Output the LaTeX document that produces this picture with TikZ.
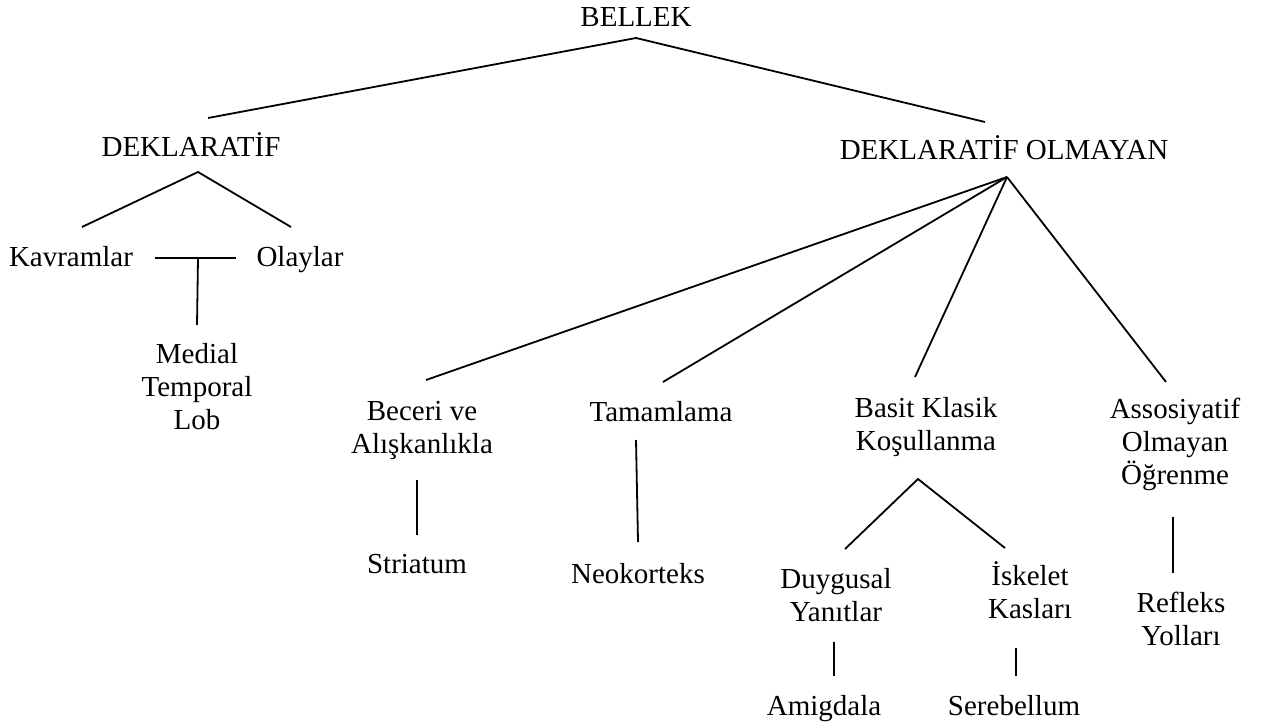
\documentclass[tikz,border=0pt]{standalone}
\usepackage{fontspec}
\setmainfont{Liberation Serif}
\usepackage{tikz}

\begin{document}
\begin{tikzpicture}[x=0.5pt, y=-0.5pt]
    \tikzstyle{term} = [inner sep=0pt, anchor=base, align=center, font=\fontsize{14.5}{16.5}\selectfont]
    \tikzstyle{link} = [line width=0.9pt, black]

    \useasboundingbox (0,0) rectangle (1261,727);

    % nodes (multi-line ones sit on their last baseline)
    \node (bellek) [term] at (636,27) {BELLEK};
    \node (dek) [term] at (191,157) {DEKLARAT\.IF};
    \node (dekol) [term] at (1004,160) {DEKLARAT\.IF OLMAYAN};
    \node (kavram) [term] at (71,266) {Kavramlar};
    \node (olay) [term] at (300,266) {Olaylar};
    \node (mtl) [term] at (197,429) {Medial\\Temporal\\Lob};
    \node (beceri) [term] at (422,453) {Beceri ve\\Alışkanlıkla};
    \node (tamam) [term] at (661,421) {Tamamlama};
    \node (basit) [term] at (926,450) {Basit Klasik\\Koşullanma};
    \node (assos) [term] at (1175,484) {Assosiyatif\\Olmayan\\Öğrenme};
    \node (striatum) [term] at (417,573) {Striatum};
    \node (neo) [term] at (638,583) {Neokorteks};
    \node (duygu) [term] at (836,621) {Duygusal\\Yanıtlar};
    \node (iskelet) [term] at (1030,618) {\.Iskelet\\Kasları};
    \node (refleks) [term] at (1181,645) {Refleks\\Yolları};
    \node (amig) [term] at (824,715) {Amigdala};
    \node (sereb) [term] at (1014,715) {Serebellum};

    % line ends
    \coordinate (bellekTop) at (636,38);
    \coordinate (dekIn) at (208,118);
    \coordinate (dekolIn) at (985,122);
    \coordinate (dekOut) at (198,172);
    \coordinate (kavramIn) at (82,227);
    \coordinate (olayIn) at (291,227);
    \coordinate (barL) at (155,258);
    \coordinate (barM) at (198,258);
    \coordinate (barR) at (236,258);
    \coordinate (mtlIn) at (197,325);
    \coordinate (dekolOut) at (1007,177);
    \coordinate (beceriIn) at (426,380);
    \coordinate (tamamIn) at (663,382);
    \coordinate (basitIn) at (915,377);
    \coordinate (assosIn) at (1166,382);
    \coordinate (beceriOut) at (417,480);
    \coordinate (striatumIn) at (417,535);
    \coordinate (tamamOut) at (636,440);
    \coordinate (neoIn) at (638,542);
    \coordinate (basitOut) at (918,479);
    \coordinate (duyguIn) at (845,549);
    \coordinate (iskeletIn) at (1005,548);
    \coordinate (assosOut) at (1173,517);
    \coordinate (refleksIn) at (1173,573);
    \coordinate (duyguOut) at (834,642);
    \coordinate (amigIn) at (834,676);
    \coordinate (iskeletOut) at (1016,648);
    \coordinate (serebIn) at (1016,676);

    % connectors
    \draw [link] (dekIn) -- (bellekTop) -- (dekolIn);
    \draw [link] (kavramIn) -- (dekOut) -- (olayIn);
    \draw [link] (barL) -- (barR);
    \draw [link] (barM) -- (mtlIn);
    \foreach \target in {beceriIn, tamamIn, basitIn, assosIn}
        \draw [link] (dekolOut) -- (\target);
    \draw [link] (beceriOut) -- (striatumIn);
    \draw [link] (tamamOut) -- (neoIn);
    \draw [link] (duyguIn) -- (basitOut) -- (iskeletIn);
    \draw [link] (assosOut) -- (refleksIn);
    \draw [link] (duyguOut) -- (amigIn);
    \draw [link] (iskeletOut) -- (serebIn);
\end{tikzpicture}
\end{document}
